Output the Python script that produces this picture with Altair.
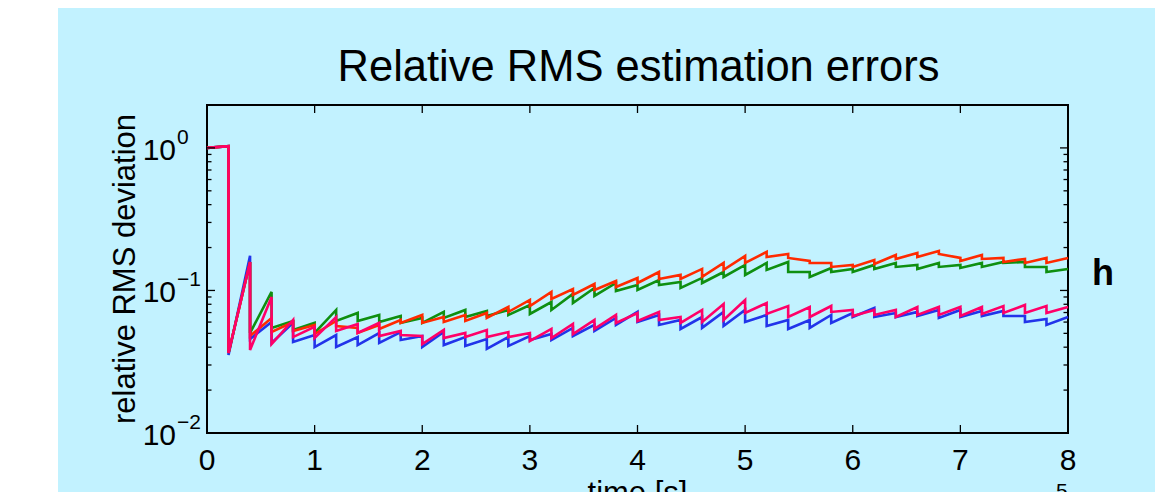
import altair as alt
import pandas as pd

# time axis (units of 1e5 s)
times = [0.0, 0.2, 0.4, 0.6, 0.8, 1.0, 1.2, 1.4, 1.6, 1.8, 2.0, 2.2, 2.4, 2.6, 2.8,
         3.0, 3.2, 3.4, 3.6, 3.8, 4.0, 4.2, 4.4, 4.6, 4.8, 5.0, 5.2, 5.4, 5.6, 5.8,
         6.0, 6.2, 6.4, 6.6, 6.8, 7.0, 7.2, 7.4, 7.6, 7.8, 8.0]

# value just before each update (pre) and just after it (post)
blue_pre = [1.0, 1.03, 0.175, 0.0601, 0.0592, 0.0487, 0.0487, 0.0471, 0.0503, 0.0511,
            0.0479, 0.0511, 0.0471, 0.0456, 0.0471, 0.0479, 0.0495, 0.0546, 0.0573, 0.0641,
            0.0707, 0.0673, 0.0621, 0.0651, 0.0707, 0.0730, 0.0673, 0.0621, 0.0621, 0.0673,
            0.0695, 0.0754, 0.0695, 0.0707, 0.0730, 0.0730, 0.0718, 0.0718, 0.0662, 0.0631, 0.0651]
blue_post = [1.0, 0.0352, 0.0456, 0.0428, 0.0435, 0.0401, 0.0401, 0.0414, 0.0428, 0.0449,
             0.0401, 0.0414, 0.0408, 0.0389, 0.0408, 0.0449, 0.0449, 0.0479, 0.0520, 0.0573,
             0.0601, 0.0573, 0.0537, 0.0546, 0.0563, 0.0601, 0.0563, 0.0537, 0.0546, 0.0592,
             0.0651, 0.0651, 0.0651, 0.0662, 0.0641, 0.0651, 0.0662, 0.0662, 0.0601, 0.0573, 0.0651]
green_pre = [1.0, 1.03, 0.1585, 0.0976, 0.0611, 0.0592, 0.0730, 0.0695, 0.0673, 0.0662,
             0.0641, 0.0707, 0.0730, 0.0718, 0.0730, 0.0791, 0.0830, 0.0945, 0.1041, 0.1128,
             0.1093, 0.1185, 0.1147, 0.1224, 0.1348, 0.1511, 0.1560, 0.1585, 0.1348, 0.1438,
             0.1416, 0.1511, 0.1560, 0.1511, 0.1560, 0.1511, 0.1560, 0.1585, 0.1585, 0.1462, 0.1416]
green_post = [1.0, 0.0364, 0.0503, 0.0546, 0.0528, 0.0503, 0.0611, 0.0611, 0.0601, 0.0592,
              0.0592, 0.0641, 0.0651, 0.0662, 0.0673, 0.0684, 0.0730, 0.0817, 0.0915, 0.0992,
              0.1008, 0.1093, 0.1041, 0.1128, 0.1244, 0.1285, 0.1393, 0.1348, 0.1244, 0.1348,
              0.1348, 0.1416, 0.1462, 0.1416, 0.1462, 0.1438, 0.1462, 0.1560, 0.1462, 0.1348, 0.1416]
red_pre = [1.0, 1.03, 0.1585, 0.0641, 0.0601, 0.0573, 0.0611, 0.0546, 0.0573, 0.0621,
           0.0673, 0.0651, 0.0673, 0.0695, 0.0766, 0.0858, 0.0976, 0.1024, 0.1110, 0.1166,
           0.1224, 0.1348, 0.1285, 0.1416, 0.1560, 0.1746, 0.1863, 0.1804, 0.1611, 0.1560,
           0.1511, 0.1637, 0.1775, 0.1833, 0.1893, 0.1691, 0.1775, 0.1691, 0.1664, 0.1691, 0.1691]
red_post = [1.0, 0.0364, 0.0479, 0.0511, 0.0520, 0.0495, 0.0563, 0.0503, 0.0537, 0.0592,
            0.0592, 0.0601, 0.0611, 0.0641, 0.0707, 0.0778, 0.0872, 0.0930, 0.1008, 0.1058,
            0.1128, 0.1204, 0.1204, 0.1244, 0.1393, 0.1560, 0.1718, 0.1691, 0.1560, 0.1462,
            0.1462, 0.1535, 0.1664, 0.1718, 0.1804, 0.1611, 0.1664, 0.1585, 0.1560, 0.1560, 0.1691]
pink_pre = [1.0, 1.03, 0.1585, 0.0900, 0.0621, 0.0555, 0.0651, 0.0582, 0.0592, 0.0520,
            0.0479, 0.0528, 0.0503, 0.0528, 0.0511, 0.0503, 0.0537, 0.0582, 0.0621, 0.0673,
            0.0695, 0.0707, 0.0651, 0.0730, 0.0804, 0.0858, 0.0817, 0.0778, 0.0766, 0.0778,
            0.0730, 0.0730, 0.0730, 0.0766, 0.0766, 0.0766, 0.0766, 0.0778, 0.0791, 0.0778, 0.0766]
pink_post = [1.0, 0.0364, 0.0382, 0.0421, 0.0471, 0.0464, 0.0520, 0.0503, 0.0479, 0.0487,
             0.0421, 0.0464, 0.0471, 0.0471, 0.0471, 0.0442, 0.0464, 0.0495, 0.0537, 0.0592,
             0.0611, 0.0621, 0.0592, 0.0601, 0.0621, 0.0695, 0.0684, 0.0651, 0.0651, 0.0707,
             0.0662, 0.0673, 0.0651, 0.0673, 0.0673, 0.0662, 0.0684, 0.0695, 0.0695, 0.0695, 0.0766]

x_ticks = [0, 1, 2, 3, 4, 5, 6, 7, 8]
x_tick_labels = ["0", "1", "2", "3", "4", "5", "6", "7", "8"]
y_major = [1.0, 0.1, 0.01]
y_exponents = ["0", "\u22121", "\u22122"]
y_minor = [0.02, 0.03, 0.04, 0.05, 0.06, 0.07, 0.08, 0.09,
           0.2, 0.3, 0.4, 0.5, 0.6, 0.7, 0.8, 0.9, 2.0]

W, H = 861, 328
FONT = "Liberation Sans"
BG = "#C2F2FF"

xs = alt.Scale(domain=[0, 8], nice=False, zero=False)
ys = alt.Scale(type="log", domain=[0.01, 2], nice=False)


def series_df(pre, post):
    rows = []
    i = 0
    for t, a, b in zip(times, pre, post):
        rows.append({"t": t, "v": a, "i": i})
        i += 1
        rows.append({"t": t, "v": b, "i": i})
        i += 1
    return pd.DataFrame(rows)


one = pd.DataFrame({"d": [0]})
layers = []

# white strip at the far left of the figure
layers.append(
    alt.Chart(one).mark_rect(color="white").encode(
        x=alt.value(-199), x2=alt.value(-149), y=alt.value(-97), y2=alt.value(395)
    )
)

for pre, post, col in [
    (blue_pre, blue_post, "#2234EA"),
    (green_pre, green_post, "#0F8F10"),
    (red_pre, red_post, "#FF2A00"),
    (pink_pre, pink_post, "#FF0068"),
]:
    layers.append(
        alt.Chart(series_df(pre, post)).mark_line(color=col, strokeWidth=2.6, strokeJoin="miter").encode(
            x=alt.X("t:Q", scale=xs, axis=None),
            y=alt.Y("v:Q", scale=ys, axis=None),
            order="i:Q",
        )
    )

xt = pd.DataFrame({"t": x_ticks, "lab": x_tick_labels})
ym = pd.DataFrame({"v": y_major, "base": ["10"] * 3, "ex": y_exponents})
yn = pd.DataFrame({"v": y_minor})

tick_style = dict(color="black", strokeWidth=1.3)
layers += [
    alt.Chart(xt).mark_rule(**tick_style).encode(x=alt.X("t:Q", scale=xs), y=alt.value(H), y2=alt.value(H - 8)),
    alt.Chart(xt).mark_rule(**tick_style).encode(x=alt.X("t:Q", scale=xs), y=alt.value(0), y2=alt.value(8)),
    alt.Chart(ym).mark_rule(**tick_style).encode(y=alt.Y("v:Q", scale=ys), x=alt.value(0), x2=alt.value(8)),
    alt.Chart(ym).mark_rule(**tick_style).encode(y=alt.Y("v:Q", scale=ys), x=alt.value(W - 8), x2=alt.value(W)),
    alt.Chart(yn).mark_rule(**tick_style).encode(y=alt.Y("v:Q", scale=ys), x=alt.value(0), x2=alt.value(4.5)),
    alt.Chart(yn).mark_rule(**tick_style).encode(y=alt.Y("v:Q", scale=ys), x=alt.value(W - 4.5), x2=alt.value(W)),
]

# tick labels
layers += [
    alt.Chart(xt).mark_text(font=FONT, fontSize=30, baseline="alphabetic", align="center", color="black").encode(
        x=alt.X("t:Q", scale=xs), y=alt.value(H + 37), text="lab:N"
    ),
    alt.Chart(ym).mark_text(font=FONT, fontSize=30, baseline="alphabetic", align="right", color="black", dy=12).encode(
        y=alt.Y("v:Q", scale=ys), x=alt.value(-31), text="base:N"
    ),
    alt.Chart(ym).mark_text(font=FONT, fontSize=21, baseline="alphabetic", align="left", color="black", dy=-4).encode(
        y=alt.Y("v:Q", scale=ys), x=alt.value(-30), text="ex:N"
    ),
]

# titles and annotations
layers += [
    alt.Chart(one).mark_text(text="Relative RMS estimation errors", font=FONT, fontSize=43.5,
                             baseline="alphabetic", align="center", color="black").encode(
        x=alt.value(W / 2 + 1), y=alt.value(-24)),
    alt.Chart(one).mark_text(text="relative RMS deviation", font=FONT, fontSize=31, angle=270,
                             baseline="alphabetic", align="center", color="black").encode(
        x=alt.value(-72), y=alt.value(H / 2)),
    alt.Chart(one).mark_text(text="time [s]", font=FONT, fontSize=31,
                             baseline="alphabetic", align="center", color="black").encode(
        x=alt.value(W / 2), y=alt.value(398)),
    alt.Chart(one).mark_text(text="h", font=FONT, fontSize=36, fontWeight="bold",
                             baseline="alphabetic", align="left", color="black").encode(
        x=alt.value(885), y=alt.value(180)),
    alt.Chart(one).mark_text(text="10", font=FONT, fontSize=30,
                             baseline="alphabetic", align="left", color="black").encode(
        x=alt.value(815), y=alt.value(409)),
    alt.Chart(one).mark_text(text="5", font=FONT, fontSize=21,
                             baseline="alphabetic", align="left", color="black").encode(
        x=alt.value(849), y=alt.value(393)),
]

chart = alt.layer(*layers).properties(
    width=W, height=H,
    autosize=alt.AutoSizeParams(type="none"),
    padding={"left": 199, "top": 97, "right": 87, "bottom": 59},
    background=BG,
).configure_view(stroke="black", strokeWidth=2)

chart.save("out.html", embed_options={"renderer": "svg", "actions": False})
